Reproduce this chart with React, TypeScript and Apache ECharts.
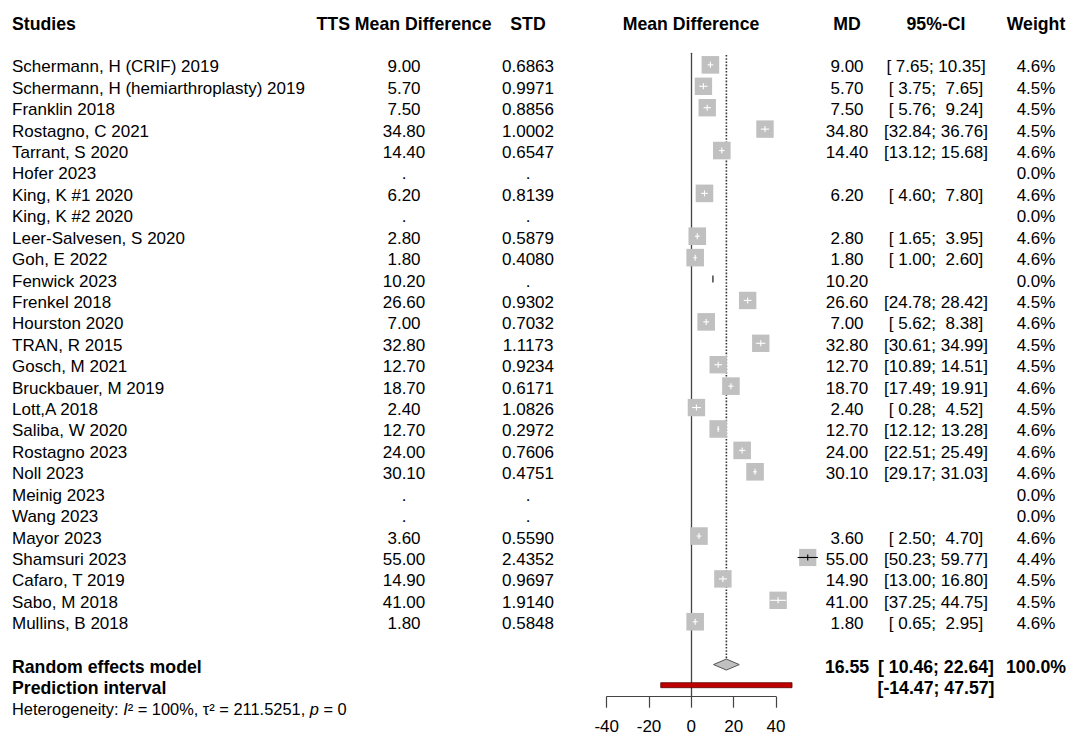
import React, { useEffect, useRef } from "react";
import * as echarts from "echarts";

// ---------- data ----------
const studies = [
  "Schermann, H (CRIF) 2019",
  "Schermann, H (hemiarthroplasty) 2019",
  "Franklin 2018",
  "Rostagno, C 2021",
  "Tarrant, S 2020",
  "Hofer 2023",
  "King, K #1 2020",
  "King, K #2 2020",
  "Leer-Salvesen, S 2020",
  "Goh, E 2022",
  "Fenwick 2023",
  "Frenkel 2018",
  "Hourston 2020",
  "TRAN, R 2015",
  "Gosch, M 2021",
  "Bruckbauer, M 2019",
  "Lott,A 2018",
  "Saliba, W 2020",
  "Rostagno 2023",
  "Noll 2023",
  "Meinig 2023",
  "Wang 2023",
  "Mayor 2023",
  "Shamsuri 2023",
  "Cafaro, T 2019",
  "Sabo, M 2018",
  "Mullins, B 2018",
];
const ttsLabels = ["9.00", "5.70", "7.50", "34.80", "14.40", ".", "6.20", ".", "2.80", "1.80", "10.20", "26.60", "7.00", "32.80", "12.70", "18.70", "2.40", "12.70", "24.00", "30.10", ".", ".", "3.60", "55.00", "14.90", "41.00", "1.80"];
const stdLabels = ["0.6863", "0.9971", "0.8856", "1.0002", "0.6547", ".", "0.8139", ".", "0.5879", "0.4080", ".", "0.9302", "0.7032", "1.1173", "0.9234", "0.6171", "1.0826", "0.2972", "0.7606", "0.4751", ".", ".", "0.5590", "2.4352", "0.9697", "1.9140", "0.5848"];
const md: (number | null)[] = [9.0, 5.7, 7.5, 34.8, 14.4, null, 6.2, null, 2.8, 1.8, 10.2, 26.6, 7.0, 32.8, 12.7, 18.7, 2.4, 12.7, 24.0, 30.1, null, null, 3.6, 55.0, 14.9, 41.0, 1.8];
const ciLower: (number | null)[] = [7.65, 3.75, 5.76, 32.84, 13.12, null, 4.6, null, 1.65, 1.0, null, 24.78, 5.62, 30.61, 10.89, 17.49, 0.28, 12.12, 22.51, 29.17, null, null, 2.5, 50.23, 13.0, 37.25, 0.65];
const ciUpper: (number | null)[] = [10.35, 7.65, 9.24, 36.76, 15.68, null, 7.8, null, 3.95, 2.6, null, 28.42, 8.38, 34.99, 14.51, 19.91, 4.52, 13.28, 25.49, 31.03, null, null, 4.7, 59.77, 16.8, 44.75, 2.95];
const weights = [4.6, 4.5, 4.5, 4.5, 4.6, 0.0, 4.6, 0.0, 4.6, 4.6, 0.0, 4.5, 4.6, 4.5, 4.5, 4.6, 4.5, 4.6, 4.6, 4.6, 0.0, 0.0, 4.6, 4.4, 4.5, 4.5, 4.6];

const pooledMD = 16.55;
const pooledLower = 10.46;
const pooledUpper = 22.64;
const pooledWeight = 100.0;
const predLower = -14.47;
const predUpper = 47.57;
const hetI2 = "100%";
const hetTau2 = "211.5251";
const hetP = "0";

const headers = ["Studies", "TTS Mean Difference", "STD", "Mean Difference", "MD", "95%-CI", "Weight"];
const xMin = -40;
const xMax = 40;
const xInterval = 20;

// ---------- layout ----------
const FONT = '"Liberation Sans", Arial, Helvetica, sans-serif';
const COL = { name: 12, tts: 404, std: 528, plot: 691, md: 847, ci: 936, w: 1036 };
const TEXT_DY = 2;
const REG = 17;
const BOLD = 17.7;

const pad = (v: number, n = 5) => {
  let s = v.toFixed(2);
  while (s.length < n) s = " " + s;
  return s;
};

const txt = (text: string, x: number, y: number, align: string, bold = false, size?: number) => {
  const fs = size ?? (bold ? BOLD : REG);
  return {
    type: "text",
    x,
    y,
    silent: true,
    style: {
      text,
      fill: "#000",
      font: `${bold ? "bold " : ""}${fs}px ${FONT}`,
      align,
      verticalAlign: "middle",
      textAlign: align,
      textVerticalAlign: "middle",
    },
  };
};

const seg = (x1: number, y1: number, x2: number, y2: number, color: string, w = 1, dash?: number[]) => ({
  type: "line",
  silent: true,
  shape: { x1, y1, x2, y2 },
  style: { stroke: color, lineWidth: w, lineDash: dash },
});

export default function App() {
  const ref = useRef<HTMLDivElement>(null);

  useEffect(() => {
    if (!ref.current) return;
    const chart = echarts.init(ref.current, undefined, { renderer: "svg" });

    const option: any = {
      animation: false,
      backgroundColor: "#ffffff",
      grid: { left: 606.7, width: 169.3, top: 53.3, height: 643.4 },
      xAxis: {
        type: "value",
        min: xMin,
        max: xMax,
        interval: xInterval,
        axisLine: { show: true, onZero: false, lineStyle: { color: "#444", width: 1.2 } },
        axisTick: { show: true, length: 11, lineStyle: { color: "#444", width: 1.2 } },
        axisLabel: { fontSize: 17, fontFamily: FONT, color: "#000", margin: 21 },
        splitLine: { show: false },
      },
      yAxis: {
        type: "value",
        inverse: true,
        min: -0.54,
        max: 29.5,
        axisLine: { show: true, onZero: true, lineStyle: { color: "#444", width: 1.3 } },
        axisTick: { show: false },
        axisLabel: { show: false },
        splitLine: { show: false },
      },
      series: [
        {
          type: "custom",
          coordinateSystem: "cartesian2d",
          clip: false,
          z: 2,
          data: [[pooledMD, 28]],
          renderItem: (params: any, api: any) => {
            const ch: any[] = [];
            const rowY = (r: number) => api.coord([0, r])[1];
            // headers
            const hy = rowY(-2) + TEXT_DY;
            ch.push(txt(headers[0], COL.name, hy, "left", true));
            ch.push(txt(headers[1], COL.tts, hy, "center", true));
            ch.push(txt(headers[2], COL.std, hy, "center", true));
            ch.push(txt(headers[3], COL.plot, hy, "center", true));
            ch.push(txt(headers[4], COL.md, hy, "center", true));
            ch.push(txt(headers[5], COL.ci, hy, "center", true));
            ch.push(txt(headers[6], COL.w, hy, "center", true));

            // pooled estimate
            const yP = rowY(28);
            const cx = api.coord([pooledMD, 28])[0];
            const lo = api.coord([pooledLower, 28])[0];
            const hi = api.coord([pooledUpper, 28])[0];
            const hh = 5.5;
            ch.push(seg(cx, rowY(-0.46), cx, yP - hh, "#333", 1.6, [1.6, 1.6]));
            ch.push({
              type: "polygon",
              silent: true,
              shape: { points: [[lo, yP], [cx, yP - hh], [hi, yP], [cx, yP + hh]] },
              style: { fill: "#c0c0c0", stroke: "#555", lineWidth: 1 },
            });
            const ty = yP + TEXT_DY;
            ch.push(txt("Random effects model", COL.name, ty, "left", true));
            ch.push(txt(pooledMD.toFixed(2), COL.md, ty, "center", true));
            ch.push(txt(`[${pad(pooledLower, 6)}; ${pad(pooledUpper)}]`, COL.ci, ty, "center", true));
            ch.push(txt(pooledWeight.toFixed(1) + "%", COL.w, ty, "center", true));

            // prediction interval
            const yR = rowY(29);
            const pl = api.coord([predLower, 29])[0];
            const pu = api.coord([predUpper, 29])[0];
            ch.push({
              type: "rect",
              silent: true,
              shape: { x: pl, y: yR - 3.3, width: pu - pl, height: 5 },
              style: { fill: "#c00000", stroke: "#5a0000", lineWidth: 0.8 },
            });
            ch.push(txt("Prediction interval", COL.name, yR + TEXT_DY, "left", true));
            ch.push(txt(`[${predLower.toFixed(2)}; ${predUpper.toFixed(2)}]`, COL.ci, yR + TEXT_DY, "center", true));

            // heterogeneity
            const yH = rowY(30) + TEXT_DY;
            ch.push({
              type: "text",
              x: COL.name,
              y: yH,
              silent: true,
              style: {
                text: `{n|Heterogeneity: }{i|I}{n|² = ${hetI2}, τ² = ${hetTau2}, }{i|p}{n| = ${hetP}}`,
                align: "left",
                verticalAlign: "middle",
                textAlign: "left",
                textVerticalAlign: "middle",
                rich: {
                  n: { font: `16.4px ${FONT}`, fill: "#000" },
                  i: { font: `italic 16.4px ${FONT}`, fill: "#000" },
                },
              },
            });
            return { type: "group", children: ch };
          },
        },
        {
          type: "custom",
          coordinateSystem: "cartesian2d",
          clip: false,
          z: 3,
          data: studies.map((_, i) => [md[i] ?? 0, i]),
          renderItem: (params: any, api: any) => {
            const i = params.dataIndex;
            const yc = api.coord([0, i])[1];
            const ty = yc + TEXT_DY;
            const ch: any[] = [];
            ch.push(txt(studies[i], COL.name, ty, "left"));
            ch.push(txt(ttsLabels[i], COL.tts, ty, "center"));
            ch.push(txt(stdLabels[i], COL.std, ty, "center"));
            const m = md[i];
            if (m != null) ch.push(txt(m.toFixed(2), COL.md, ty, "center"));
            const l = ciLower[i];
            const u = ciUpper[i];
            if (l != null && u != null) ch.push(txt(`[${pad(l)}; ${pad(u)}]`, COL.ci, ty, "center"));
            ch.push(txt(weights[i].toFixed(1) + "%", COL.w, ty, "center"));
            if (m != null) {
              const cx = api.coord([m, i])[0];
              if (weights[i] > 0 && l != null && u != null) {
                const s = 17.6 * Math.sqrt(weights[i] / 4.6);
                ch.push({
                  type: "rect",
                  silent: true,
                  shape: { x: cx - s / 2, y: yc - s / 2, width: s, height: s },
                  style: { fill: "#c0c0c0" },
                });
                const lo = api.coord([l, i])[0];
                const hi = api.coord([u, i])[0];
                const inside = lo >= cx - s / 2 && hi <= cx + s / 2;
                const col = inside ? "#ffffff" : "#000000";
                ch.push(seg(lo, yc, hi, yc, col, 1.1));
                ch.push(seg(cx, yc - 3, cx, yc + 3, col, 1.1));
              } else {
                ch.push(seg(cx, yc - 3.5, cx, yc + 3.5, "#000", 1.1));
              }
            }
            return { type: "group", children: ch };
          },
        },
      ],
    };

    chart.setOption(option);
    return () => chart.dispose();
  }, []);

  return (
    <div
      ref={ref}
      style={{ position: "fixed", left: 0, top: 0, width: 1069, height: 739, background: "#fff" }}
    />
  );
}
